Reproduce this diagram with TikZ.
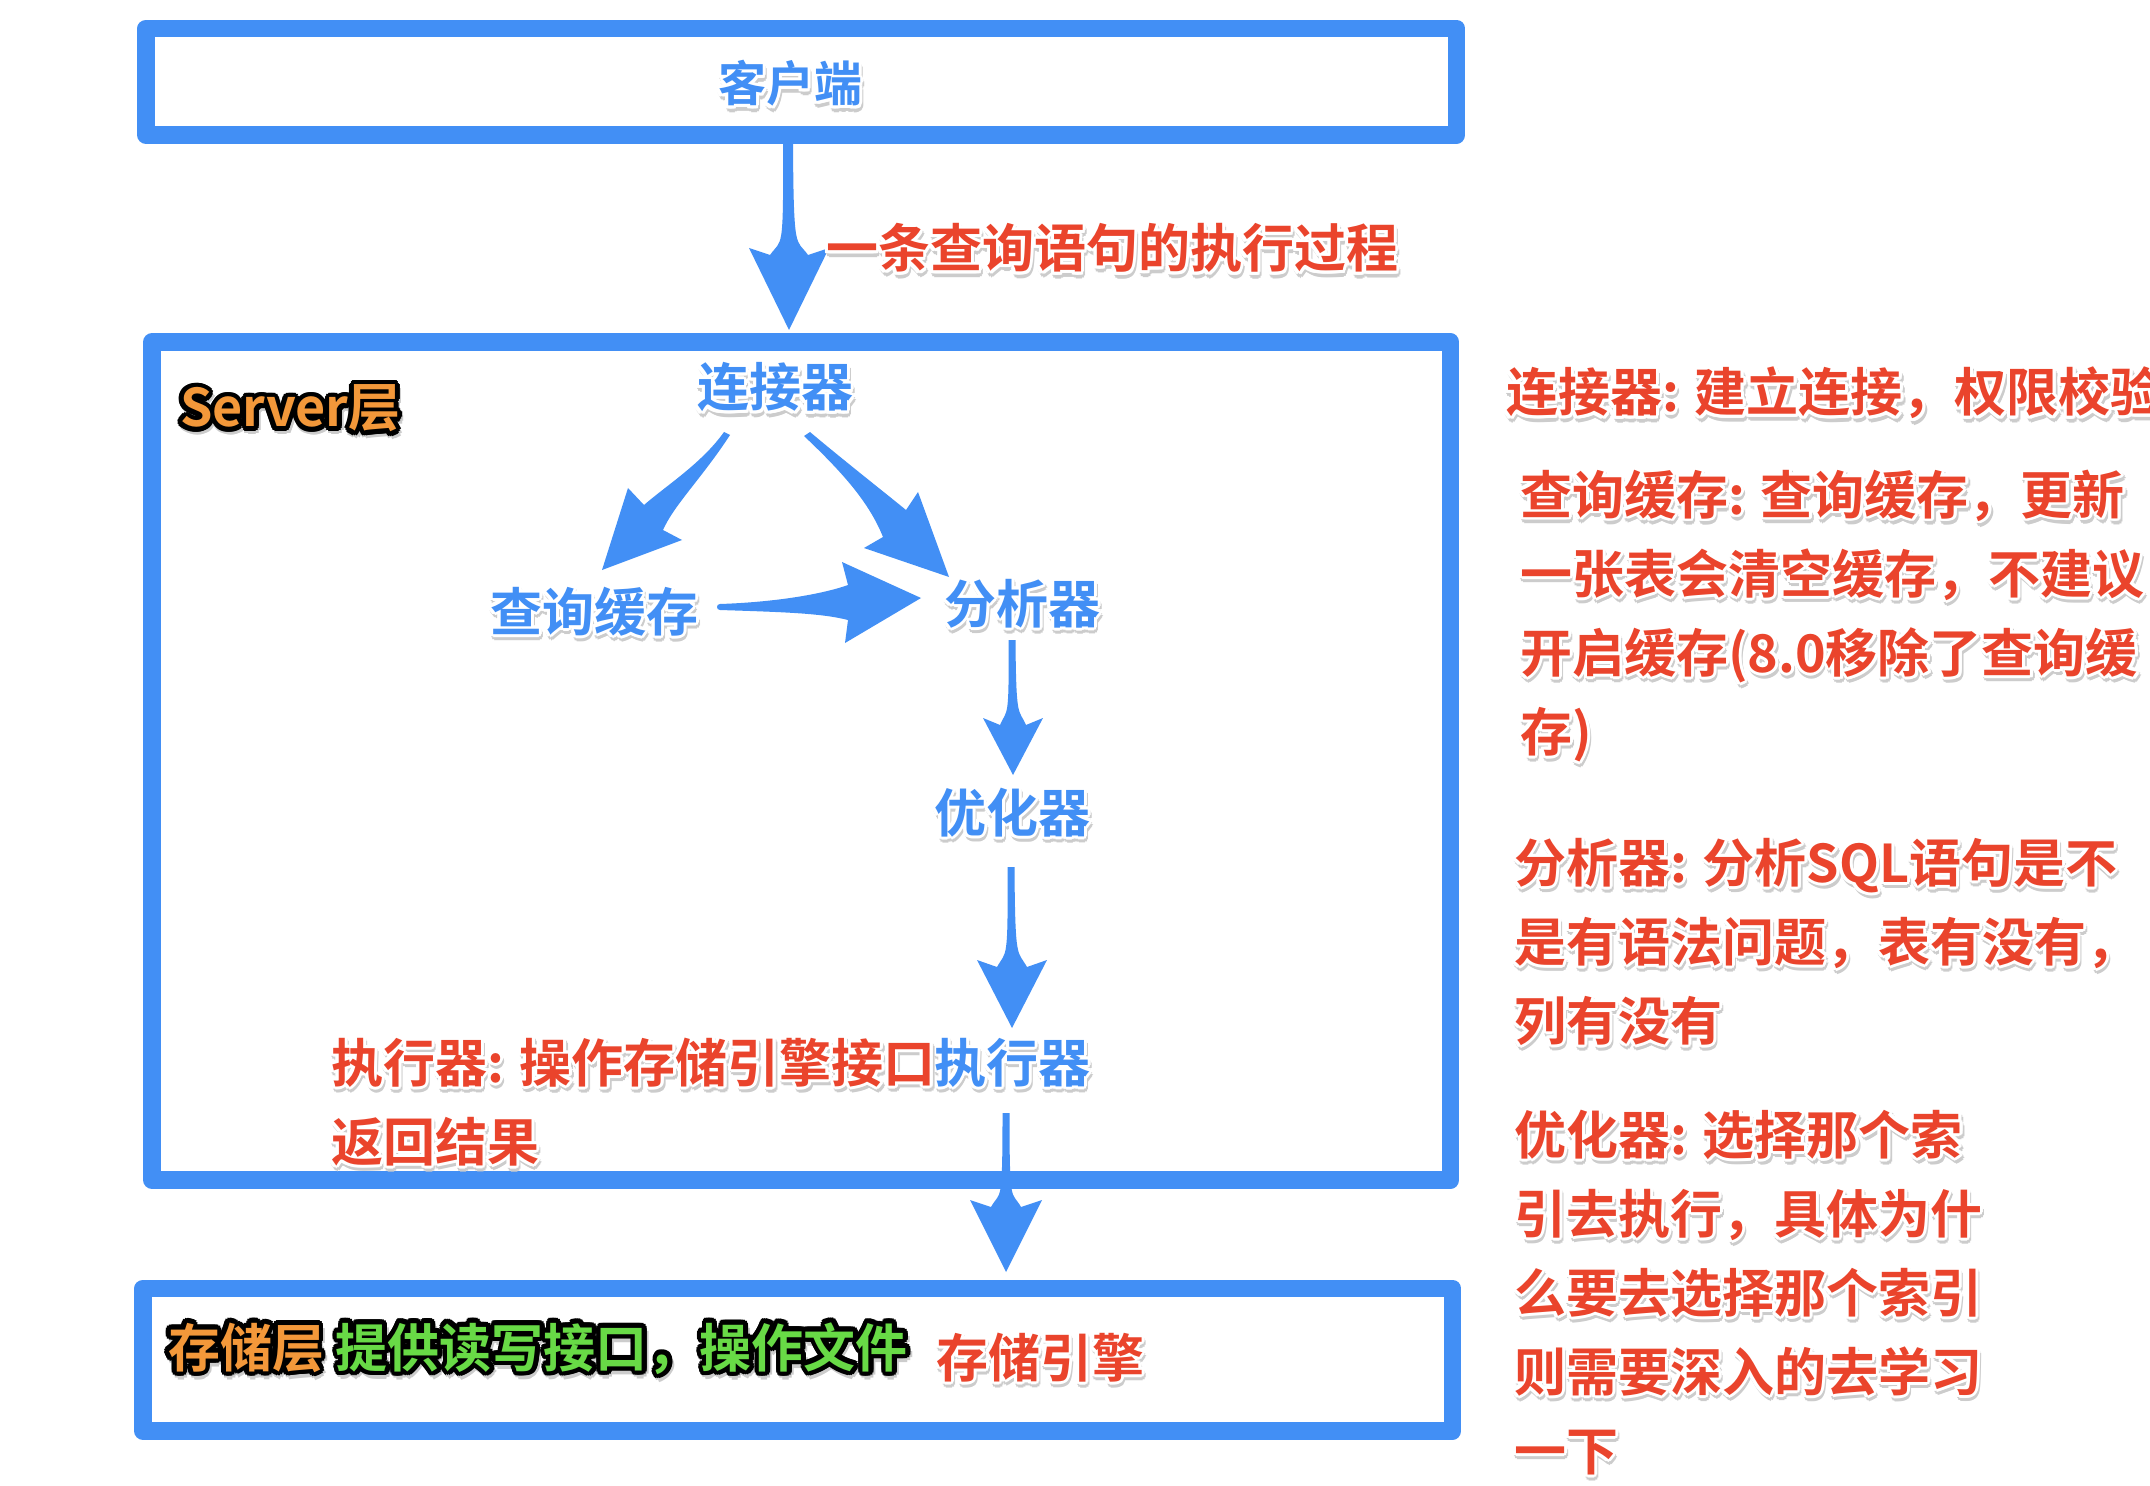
\documentclass[tikz,border=0pt]{standalone}
\usepackage{fontspec}
\setmainfont{Noto Sans CJK SC}[BoldFont={Noto Sans CJK SC Bold}]
\usetikzlibrary{calc}
\definecolor{kblue}{RGB}{66,143,245}
\definecolor{kred}{RGB}{234,68,44}
\definecolor{korange}{RGB}{243,152,58}
\definecolor{kgreen}{RGB}{104,218,70}
\newdimen\fxa
\newdimen\fxb
\newcommand\fxtext[4]{%
  \begingroup
  \setbox0\hbox{#4}%
  \foreach \fxang in {0,45,...,315}{%
    \pgfmathsetlength\fxa{#1*cos(\fxang)+0.8pt}%
    \pgfmathsetlength\fxb{#1*sin(\fxang)-1.6pt}%
    \rlap{\color{black!20}\kern\fxa\raise\fxb\copy0}}%
  \foreach \fxang in {0,22.5,...,337.5}{%
    \pgfmathsetlength\fxa{#1*cos(\fxang)}%
    \pgfmathsetlength\fxb{#1*sin(\fxang)}%
    \rlap{\color{#2}\kern\fxa\raise\fxb\copy0}}%
  {\color{#3}\copy0}%
  \endgroup}
\newcommand\txB[1]{\fxtext{1.5pt}{white}{kblue}{#1}}
\newcommand\txR[1]{\fxtext{1.5pt}{white}{kred}{#1}}
\newcommand\txO[1]{\fxtext{2.4pt}{black}{korange}{#1}}
\newcommand\txG[1]{\fxtext{2.4pt}{black}{kgreen}{#1}}
% vertical keynote-style arrow: start, tip, half shaft, head length, half head, half notch
\newcommand\varrow[6]{%
  \fill[kfill] ($(#1)+(-#3,0)$) -- ($(#1)+(#3,0)$)
    .. controls ($(#1)!0.6!(#2)+(#3,0)$) and ($(#2)+(#3+2,-#4-10)$) .. ($(#2)+(#6,-#4+7)$)
    -- ($(#2)+(#5,-#4)$) -- (#2) -- ($(#2)+(-#5,-#4)$) -- ($(#2)+(-#6,-#4+7)$)
    .. controls ($(#2)+(-#3-2,-#4-10)$) and ($(#1)!0.6!(#2)+(-#3,0)$) .. ($(#1)+(-#3,0)$) -- cycle;}
\tikzset{
  every node/.style={inner sep=0pt, outer sep=0pt, font=\bfseries\fontsize{26pt}{39.5pt}\selectfont},
  lbl/.style={anchor=base},
  lblw/.style={anchor=base west},
  frame/.style={draw=kblue, line width=8.75pt, line join=round},
  kfill/.style={fill=kblue}
}
\begin{document}
\begin{tikzpicture}[x=0.5pt,y=-0.5pt]
\useasboundingbox (0,0) rectangle (2150,1486);
\fill[white] (0,0) rectangle (2150,1486);

% frames
\node[frame, minimum width=655.25pt, minimum height=53.25pt] (clientbox) at (801.25,81.75) {};
\node[frame, minimum width=649.25pt, minimum height=419pt] (serverbox) at (801.25,761) {};
\node[frame, minimum width=654.75pt, minimum height=71.25pt] (storebox) at (797.75,1359.75) {};

% arrow end points
\coordinate (k1s) at (788,143);  \coordinate (k1t) at (789,330);
\coordinate (kAs) at (727,433);  \coordinate (kAt) at (602,570);
\coordinate (kBs) at (807,434);  \coordinate (kBt) at (949,577);
\coordinate (kCs) at (720,607);  \coordinate (kCt) at (921,598);
\coordinate (kDs) at (1012,640); \coordinate (kDt) at (1013,775);
\coordinate (kEs) at (1011,867); \coordinate (kEt) at (1012,1028);
\coordinate (kFs) at (1006,1113); \coordinate (kFt) at (1006,1272);

% straight arrows
\varrow{k1s}{k1t}{5}{82}{40}{19}
\varrow{kDs}{kDt}{3.5}{57}{30}{13}
\varrow{kEs}{kEt}{3.5}{68}{35}{15}
\varrow{kFs}{kFt}{3.5}{72}{36}{15}

% curved arrows
\fill[kfill] ($(kAs)+(-3,-1)$) -- ($(kAs)+(3,2)$)
  .. controls ($(kAs)+(-25,45)$) and ($(kAt)+(72,-65)$) .. ($(kAt)+(61,-40)$)
  -- ($(kAt)+(80,-30)$) -- (kAt) -- ($(kAt)+(26,-82)$) -- ($(kAt)+(42,-65)$)
  .. controls ($(kAt)+(65,-85)$) and ($(kAs)+(-25,30)$) .. ($(kAs)+(-3,-1)$) -- cycle;
\fill[kfill] ($(kBs)+(-3,2)$)
  .. controls ($(kBs)+(35,38)$) and ($(kBt)+(-80,-75)$) .. ($(kBt)+(-66,-40)$)
  -- ($(kBt)+(-85,-29)$) -- (kBt) -- ($(kBt)+(-31,-85)$) -- ($(kBt)+(-43,-67)$)
  .. controls ($(kBt)+(-65,-85)$) and ($(kBs)+(35,25)$) .. ($(kBs)+(3,-2)$) -- cycle;
\fill[kfill] ($(kCs)+(0,-3)$)
  .. controls ($(kCs)+(60,-5)$) and ($(kCt)+(-95,-5)$) .. ($(kCt)+(-73,-13)$)
  -- ($(kCt)+(-79,-36)$) -- (kCt) -- ($(kCt)+(-76,45)$) -- ($(kCt)+(-73,22)$)
  .. controls ($(kCt)+(-100,15)$) and ($(kCs)+(60,5)$) .. ($(kCs)+(0,3)$)
  .. controls ($(kCs)+(-4,3)$) and ($(kCs)+(-4,-3)$) .. cycle;

% labels in the diagram
\node[lbl, font=\bfseries\fontsize{24pt}{30pt}\selectfont] (client) at (790,102) {\txB{客户端}};
\node[lblw] (flow) at (826,268) {\txR{一条查询语句的执行过程}};
\node[lblw] (serverlbl) at (180,427) {\txO{Server层}};
\node[lbl] (conn) at (775,407) {\txB{连接器}};
\node[lbl] (cache) at (594,631) {\txB{查询缓存}};
\node[lbl] (parser) at (1022,623) {\txB{分析器}};
\node[lbl] (optim) at (1012,832) {\txB{优化器}};
\node[lbl] (exec) at (1012,1082) {\txB{执行器}};
\node[lblw] (execnote) at (331,1082) {\txR{执行器: 操作存储引擎接口}};
\node[lblw] (execnote2) at (331,1161) {\txR{返回结果}};
\node[lblw] (storelbl) at (168,1367) {\txO{存储层} \txG{提供读写接口，操作文件}};
\node[lblw] (engine) at (936,1377) {\txR{存储引擎}};

% notes on the right
\node[lblw] (n1) at (1506,412) {\txR{连接器: 建立连接，权限校验}};
\node[lblw] (n2a) at (1520,514) {\txR{查询缓存: 查询缓存，更新}};
\node[lblw] (n2b) at (1520,593) {\txR{一张表会清空缓存，不建议}};
\node[lblw] (n2c) at (1520,672) {\txR{开启缓存(8.0移除了查询缓}};
\node[lblw] (n2d) at (1520,751) {\txR{存)}};
\node[lblw] (n3a) at (1514,882) {\txR{分析器: 分析SQL语句是不}};
\node[lblw] (n3b) at (1514,961) {\txR{是有语法问题，表有没有，}};
\node[lblw] (n3c) at (1514,1040) {\txR{列有没有}};
\node[lblw] (n4a) at (1514,1154) {\txR{优化器: 选择那个索}};
\node[lblw] (n4b) at (1514,1233) {\txR{引去执行，具体为什}};
\node[lblw] (n4c) at (1514,1312) {\txR{么要去选择那个索引}};
\node[lblw] (n4d) at (1514,1391) {\txR{则需要深入的去学习}};
\node[lblw] (n4e) at (1514,1470) {\txR{一下}};
\end{tikzpicture}
\end{document}
